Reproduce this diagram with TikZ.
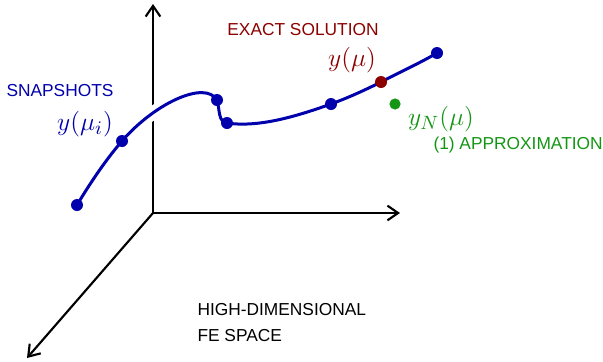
\documentclass[tikz,border=0pt]{standalone}
\usepackage{fontspec}
\setmainfont{Liberation Sans}
\usetikzlibrary{arrows.meta}
\definecolor{snapblue}{RGB}{0,0,172}
\definecolor{exactred}{RGB}{140,0,0}
\definecolor{approxgreen}{RGB}{20,150,20}
\newcommand{\bigmath}[1]{\scalebox{1.6}{$#1$}}
\tikzset{every picture/.style={line width=0.75pt}}
\tikzset{
  axis/.style={line width=1.6pt,-{Straight Barb[length=8pt,width=11pt]}},
  halo/.style={white,line width=10pt},
  manifold/.style={snapblue,line width=2.25pt},
  label/.style={inner sep=0.75pt,font=\fontsize{13}{19.5}\selectfont}
}

\begin{document}
\begin{tikzpicture}[x=0.75pt,y=0.75pt,yscale=-1,xscale=1]
\useasboundingbox (0,0) rectangle (603,361);

\coordinate (O) at (153,213);
\coordinate (up) at (153,4);
\coordinate (right) at (400,213);
\coordinate (front) at (27,358);

%Axes
\draw [axis] (O) -- (up);
\draw [axis] (O) -- (right);
\draw [axis] (O) -- (front);

%Curve of solutions
\coordinate (s1) at (77,205);
\coordinate (s2) at (122,141);
\coordinate (s3) at (217,100);
\coordinate (s4) at (227,123);
\coordinate (s5) at (331,104);
\coordinate (ex) at (381,82);
\coordinate (s6) at (437,53);
\coordinate (ap) at (395,104);

\foreach \st in {halo,manifold}
  \draw [\st] (s1) .. controls (95,175) and (110,155) .. (s2)
    .. controls (155,103) and (205,80) .. (s3)
    .. controls (220,110) and (218,122) .. (s4)
    .. controls (260,128) and (300,115) .. (s5)
    .. controls (350,97) and (365,90) .. (ex)
    .. controls (400,72) and (420,63) .. (s6);

%Dots
\foreach \p in {s1,s2,s3,s4,s5,s6}
  \fill [snapblue] (\p) circle (6);
\fill [exactred] (ex) circle (6);
\fill [approxgreen] (ap) circle (5.6);

% Text Node
\node [label,snapblue] (snap) at (60,91) {SNAPSHOTS};
% Text Node
\node [label,snapblue] (ymui) at (85,124) {\bigmath{y(\mu_i)}};
% Text Node
\node [label,exactred] (exact) at (303,30) {EXACT SOLUTION};
% Text Node
\node [label,exactred] (ymu) at (352,60) {\bigmath{y(\mu)}};
% Text Node
\node [label,approxgreen] (yN) at (441,119) {\bigmath{y_N(\mu)}};
% Text Node
\node [label,approxgreen,anchor=west] (approx) at (432,145) {(1) APPROXIMATION};
% Text Node
\node [label,anchor=north west,align=left] (fe) at (196,302) {HIGH-DIMENSIONAL\\FE SPACE};

\end{tikzpicture}
\end{document}
